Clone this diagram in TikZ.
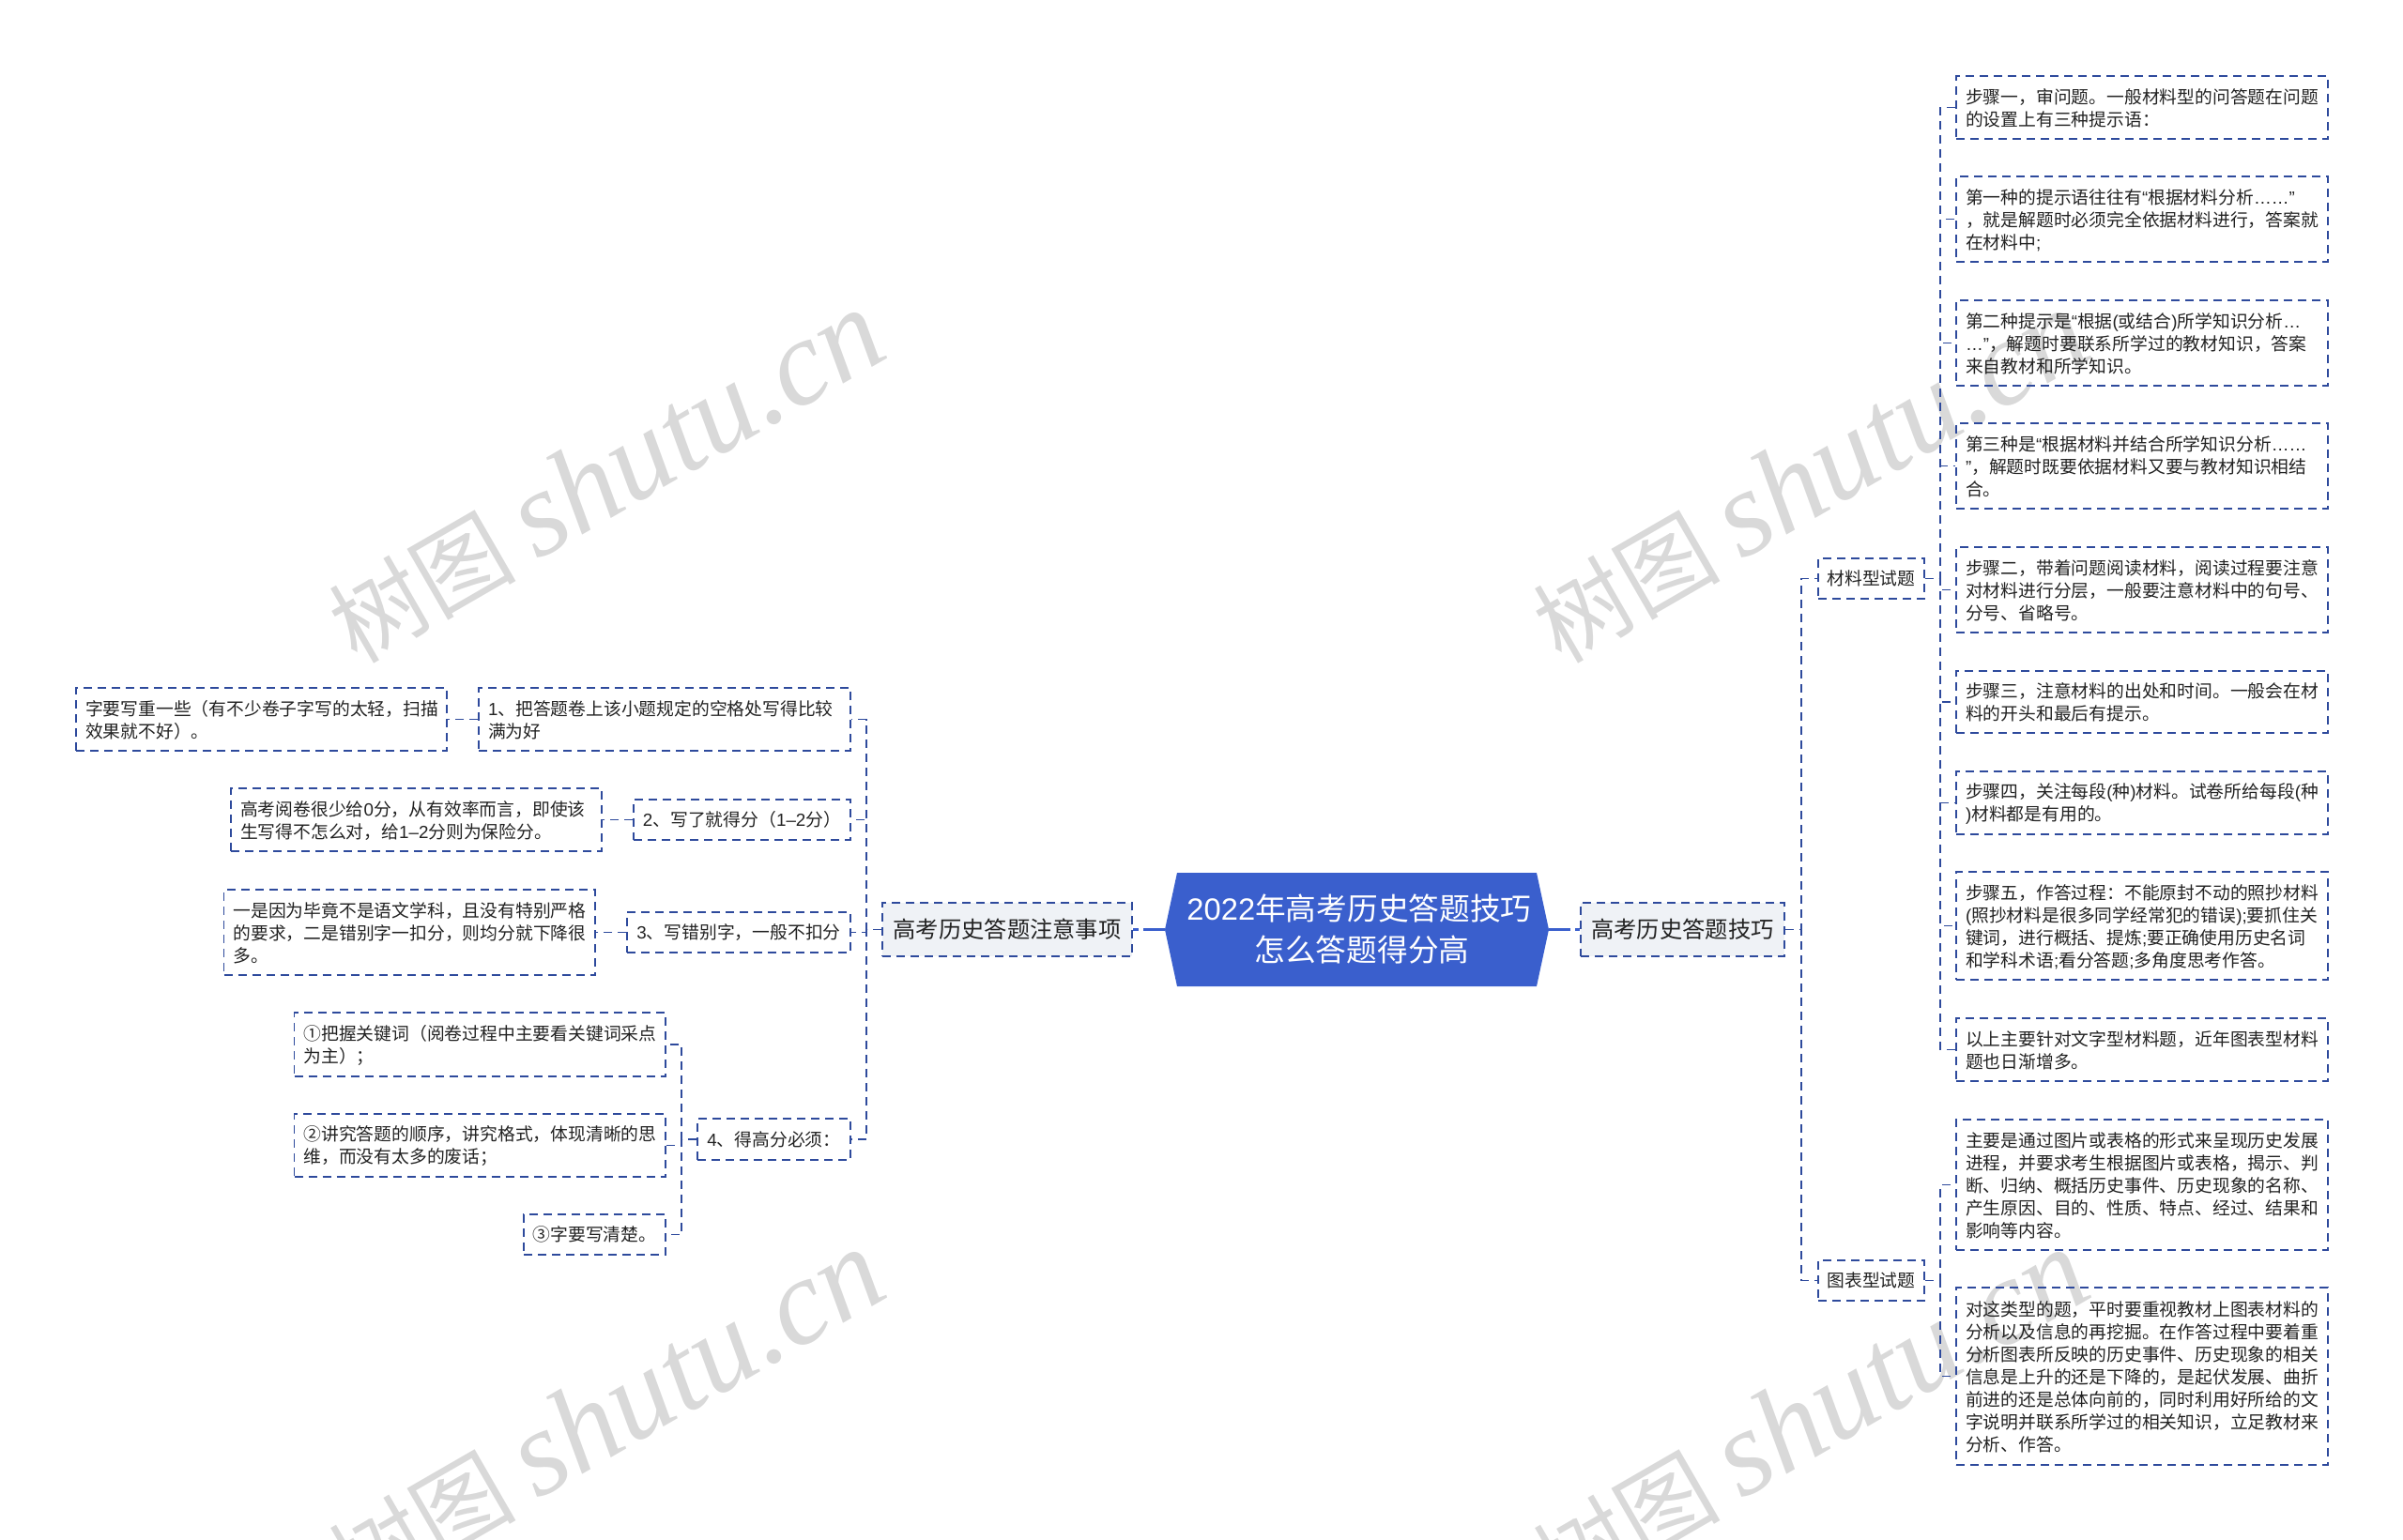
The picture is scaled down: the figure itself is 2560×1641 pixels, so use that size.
\documentclass[tikz,border=0pt]{standalone}
\usepackage{fontspec}
\setmainfont{Noto Sans CJK SC}
\newfontfamily\lat{Liberation Sans}
\newfontfamily\wmlat{Liberation Serif}
\definecolor{dashc}{HTML}{2E4A9C}
\definecolor{centc}{HTML}{3A5FCD}
\definecolor{softc}{HTML}{EFF2F6}
\definecolor{wmc}{HTML}{D9D9D9}
\definecolor{txtc}{HTML}{222222}
\newcommand{\La}[1]{{\lat #1}}
\tikzset{
  conn/.style={draw=dashc,line width=1.5pt,dash pattern=on 9pt off 6pt},
  thick conn/.style={draw=centc,line width=3pt,dash pattern=on 23pt off 5pt},
  dbox/.style={draw=dashc,line width=1.5pt,dash pattern=on 9pt off 6pt,inner sep=0pt,
    text=txtc,font=\fontsize{18.8}{24}\selectfont},
  dsoft/.style={dbox,fill=softc,font=\fontsize{24.3}{30}\selectfont},
  wm/.style={text=wmc,rotate=30,anchor=base west,inner sep=0pt},
}
\newcommand{\para}[6]{%
  \node[dbox,align=left,minimum width=\dimexpr #4pt-#2pt\relax,minimum height=\dimexpr #5pt-#3pt\relax,
    text width=\dimexpr #4pt-#2pt-20pt\relax] (#1) at ({(#2+#4)/2},{(#3+#5)/2}) {\vskip-6.5pt #6};}
\newcommand{\single}[6]{%
  \node[dbox,minimum width=\dimexpr #4pt-#2pt\relax,minimum height=\dimexpr #5pt-#3pt\relax] (#1) at ({(#2+#4)/2},{(#3+#5)/2}) {\raisebox{-1.5pt}{#6}};}
\newcommand{\softbox}[6]{%
  \node[dsoft,minimum width=\dimexpr #4pt-#2pt\relax,minimum height=\dimexpr #5pt-#3pt\relax] (#1) at ({(#2+#4)/2},{(#3+#5)/2}) {#6};}
\newcommand{\wmark}[3]{%
  \node[wm] (#1) at (#2,#3) {\fontsize{100}{100}\selectfont 树图 {\wmlat\itshape\fontsize{130}{130}\selectfont shutu.cn}};}
\begin{document}
\begin{tikzpicture}[x=1pt,y=-1pt]
\useasboundingbox (0,0) rectangle (2560,1641);
\begin{scope}
\clip (0,0) rectangle (2560,1641);
\wmark{w1}{380}{709}
\wmark{w2}{1663}{709}
\wmark{w3}{380}{1710}
\wmark{w4}{1663}{1710}
\end{scope}

% centre
\fill[centc] (1241,990.5) -- (1254,930) -- (1637,930) -- (1650,990.5) -- (1637,1051) -- (1254,1051) -- cycle;
\coordinate (cw) at (1241,990.5);
\coordinate (ce) at (1650,990.5);
\node[align=center,text=white,font=\fontsize{32.7}{44}\selectfont] (ctext) at (1448,990) {\La{2022}年高考历史答题技巧\\\hspace*{6pt}怎么答题得分高};

% level 1
\softbox{rt}{1684}{962}{1901}{1019}{高考历史答题技巧}
\softbox{lt}{940}{962}{1206}{1019}{高考历史答题注意事项}
\draw[thick conn] (ce) -- (rt.west);
\draw[thick conn] (cw) -- (lt.east);

% right level 2
\single{mat}{1937}{595}{2050}{638}{材料型试题}
\single{fig}{1937}{1343}{2050}{1386}{图表型试题}
\coordinate (trR) at (1919,0);
\draw[conn] (rt.east) -- (rt.east -| trR) |- (mat.west);
\draw[conn] (rt.east) -- (rt.east -| trR) |- (fig.west);

% right leaves
\para{a1}{2084}{81}{2480}{148}{步骤一，审问题。一般材料型的问答题在问题\\的设置上有三种提示语：}
\para{a2}{2084}{188}{2480}{279}{第一种的提示语往往有\La{“}根据材料分析\La{……”}\\，就是解题时必须完全依据材料进行，答案就\\在材料中\La{;}}
\para{a3}{2084}{320}{2480}{411}{第二种提示是\La{“}根据\La{(}或结合\La{)}所学知识分析\La{…}\\\La{…”}，解题时要联系所学过的教材知识，答案\\来自教材和所学知识。}
\para{a4}{2084}{451}{2480}{542}{第三种是\La{“}根据材料并结合所学知识分析\La{……}\\\La{”}，解题时既要依据材料又要与教材知识相结\\合。}
\para{a5}{2084}{583}{2480}{674}{步骤二，带着问题阅读材料，阅读过程要注意\\对材料进行分层，一般要注意材料中的句号、\\分号、省略号。}
\para{a6}{2084}{715}{2480}{781}{步骤三，注意材料的出处和时间。一般会在材\\料的开头和最后有提示。}
\para{a7}{2084}{822}{2480}{889}{步骤四，关注每段\La{(}种\La{)}材料。试卷所给每段\La{(}种\\\La{)}材料都是有用的。}
\para{a8}{2084}{929}{2480}{1044}{步骤五，作答过程：不能原封不动的照抄材料\\\La{(}照抄材料是很多同学经常犯的错误\La{);}要抓住关\\键词，进行概括、提炼\La{;}要正确使用历史名词\\和学科术语\La{;}看分答题\La{;}多角度思考作答。}
\para{a9}{2084}{1085}{2480}{1152}{以上主要针对文字型材料题，近年图表型材料\\题也日渐增多。}
\para{a10}{2084}{1193}{2480}{1332}{主要是通过图片或表格的形式来呈现历史发展\\进程，并要求考生根据图片或表格，揭示、判\\断、归纳、概括历史事件、历史现象的名称、\\产生原因、目的、性质、特点、经过、结果和\\影响等内容。}
\para{a11}{2084}{1372}{2480}{1561}{对这类型的题，平时要重视教材上图表材料的\\分析以及信息的再挖掘。在作答过程中要着重\\分析图表所反映的历史事件、历史现象的相关\\信息是上升的还是下降的，是起伏发展、曲折\\前进的还是总体向前的，同时利用好所给的文\\字说明并联系所学过的相关知识，立足教材来\\分析、作答。}
\coordinate (trM) at (2067,0);
\foreach \n in {a1,a2,a3,a4,a5,a6,a7,a8,a9}
  \draw[conn] (mat.east) -- (mat.east -| trM) |- (\n.west);
\foreach \n in {a10,a11}
  \draw[conn] (fig.east) -- (fig.east -| trM) |- (\n.west);

% left
\para{b1}{510}{733}{906}{800}{\La{1}、把答题卷上该小题规定的空格处写得比较\\满为好}
\single{b2}{675}{852}{906}{895}{\La{2}、写了就得分（\La{1–2}分）}
\single{b3}{668}{972}{906}{1015}{\La{3}、写错别字，一般不扣分}
\single{b4}{743}{1192}{906}{1236}{\La{4}、得高分必须：}
\para{b1a}{81}{733}{476}{800}{字要写重一些（有不少卷子字写的太轻，扫描\\效果就不好）。}
\para{b2a}{246}{840}{641}{907}{高考阅卷很少给\La{0}分，从有效率而言，即使该\\生写得不怎么对，给\La{1–2}分则为保险分。}
\para{b3a}{238.5}{948}{634}{1039}{一是因为毕竟不是语文学科，且没有特别严格\\的要求，二是错别字一扣分，则均分就下降很\\多。}
\para{c1}{313.5}{1079}{709}{1147}{①把握关键词（阅卷过程中主要看关键词采点\\为主）；}
\para{c2}{313.5}{1187}{709}{1254}{②讲究答题的顺序，讲究格式，体现清晰的思\\维，而没有太多的废话；}
\single{c3}{558}{1294}{709}{1337}{③字要写清楚。}
\coordinate (trL) at (923,0);
\foreach \n in {b1,b2,b3,b4}
  \draw[conn] (lt.west) -- (lt.west -| trL) |- (\n.east);
\draw[conn] (b1.west) -- (b1a.east);
\draw[conn] (b2.west) -- (b2a.east);
\draw[conn] (b3.west) -- (b3a.east);
\coordinate (trC) at (726,0);
\foreach \n in {c1,c2,c3}
  \draw[conn] (b4.west) -- (b4.west -| trC) |- (\n.east);
\end{tikzpicture}
\end{document}
